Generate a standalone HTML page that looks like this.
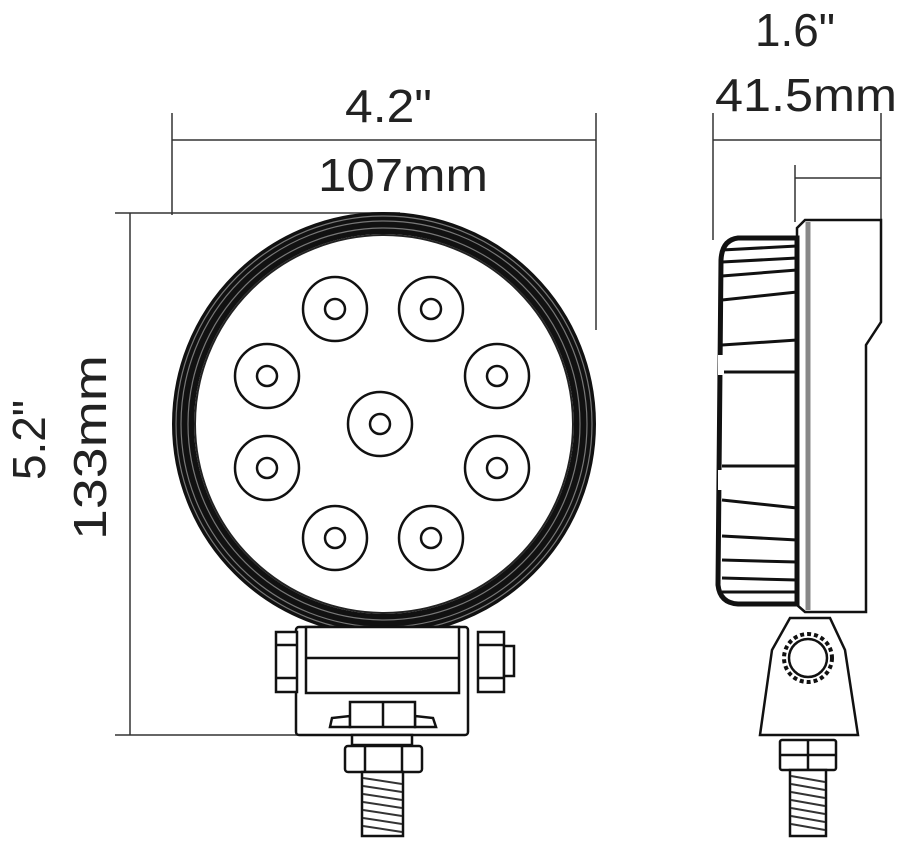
<!DOCTYPE html>
<html><head><meta charset="utf-8"><style>
html,body{margin:0;padding:0;background:#fff;}
svg{display:block;}
text{font-family:"Liberation Sans",sans-serif;fill:#222;}
</style></head><body>
<svg width="900" height="846" viewBox="0 0 900 846" xmlns="http://www.w3.org/2000/svg">
<g stroke="#333" stroke-width="1.5" fill="none">
<line x1="172" y1="113" x2="172" y2="215"/>
<line x1="596" y1="113" x2="596" y2="330"/>
<line x1="172" y1="140" x2="596" y2="140"/>
<line x1="115" y1="213" x2="400" y2="213"/>
<line x1="115" y1="735" x2="300" y2="735"/>
<line x1="130" y1="213" x2="130" y2="735"/>
<line x1="713" y1="113" x2="713" y2="240"/>
<line x1="881" y1="113" x2="881" y2="225"/>
<line x1="713" y1="140" x2="881" y2="140"/>
<line x1="795" y1="165" x2="795" y2="222"/>
<line x1="795" y1="178" x2="881" y2="178"/>
</g>
<text x="345" y="122" font-size="46" textLength="87" lengthAdjust="spacingAndGlyphs">4.2"</text>
<text x="318" y="191" font-size="46" textLength="170" lengthAdjust="spacingAndGlyphs">107mm</text>
<text x="755" y="46" font-size="46" textLength="80" lengthAdjust="spacingAndGlyphs">1.6"</text>
<text x="715" y="111" font-size="46" textLength="182" lengthAdjust="spacingAndGlyphs">41.5mm</text>
<text transform="translate(45,480) rotate(-90)" font-size="46" textLength="80" lengthAdjust="spacingAndGlyphs">5.2"</text>
<text transform="translate(106,540) rotate(-90)" font-size="46" textLength="185" lengthAdjust="spacingAndGlyphs">133mm</text>

<circle cx="384" cy="424" r="201" fill="none" stroke="#111" stroke-width="22"/>
<g fill="none" stroke="#777" stroke-width="1.2">
<circle cx="384" cy="424" r="196"/><circle cx="384" cy="424" r="203"/><circle cx="384" cy="424" r="208"/>
</g>
<circle cx="384" cy="424" r="189" fill="#fff" stroke="#222" stroke-width="2"/>
<g fill="#fff" stroke="#111" stroke-width="2.5">
<circle cx="335" cy="309" r="32"/><circle cx="431" cy="309" r="32"/>
<circle cx="267" cy="376" r="32"/><circle cx="497" cy="376" r="32"/>
<circle cx="380" cy="424" r="32"/>
<circle cx="267" cy="468" r="32"/><circle cx="497" cy="468" r="32"/>
<circle cx="335" cy="538" r="32"/><circle cx="431" cy="538" r="32"/>
<circle cx="335" cy="309" r="10"/><circle cx="431" cy="309" r="10"/>
<circle cx="267" cy="376" r="10"/><circle cx="497" cy="376" r="10"/>
<circle cx="380" cy="424" r="10"/>
<circle cx="267" cy="468" r="10"/><circle cx="497" cy="468" r="10"/>
<circle cx="335" cy="538" r="10"/><circle cx="431" cy="538" r="10"/>
</g>
<g fill="#fff" stroke="#111" stroke-width="2.5">
<rect x="296" y="627" width="172" height="108" rx="3"/>
<rect x="306" y="627" width="153" height="66"/>
<line x1="306" y1="658" x2="459" y2="658"/>
<rect x="276" y="632" width="21" height="60"/>
<line x1="276" y1="645" x2="297" y2="645"/><line x1="276" y1="678" x2="297" y2="678"/>
<rect x="478" y="632" width="26" height="60"/>
<line x1="478" y1="645" x2="504" y2="645"/><line x1="478" y1="678" x2="504" y2="678"/>
<rect x="504" y="646" width="10" height="30"/>
<path d="M330 727 L332 718 L350 716 L350 727 Z"/>
<path d="M415 727 L415 716 L433 718 L436 727 Z"/>
<rect x="350" y="702" width="65" height="25"/>
<line x1="383" y1="702" x2="383" y2="727"/>
<rect x="352" y="735" width="60" height="10"/>
<rect x="345" y="746" width="77" height="26" rx="3"/>
<line x1="365" y1="746" x2="365" y2="772"/><line x1="402" y1="746" x2="402" y2="772"/>
<rect x="362" y="772" width="41" height="64"/>
</g>
<g stroke="#333" stroke-width="2">
<line x1="363" y1="778" x2="402" y2="784"/><line x1="363" y1="786" x2="402" y2="792"/>
<line x1="363" y1="794" x2="402" y2="800"/><line x1="363" y1="802" x2="402" y2="808"/>
<line x1="363" y1="810" x2="402" y2="816"/><line x1="363" y1="818" x2="402" y2="824"/>
<line x1="363" y1="826" x2="402" y2="832"/>
</g>

<g fill="#fff" stroke="#111" stroke-width="2.5">
<path d="M797 228 L805 220 L881 220 L881 322 L866 345 L866 612 L805 612 L797 605 Z"/>
<line x1="808" y1="222" x2="808" y2="610" stroke="#888" stroke-width="5"/>
<path d="M797 238 L738 238 Q722 240 721 260 L718 585 Q720 603 738 604 L797 604 Z" stroke-width="5"/>
</g>
<g stroke="#111" stroke-width="3">
<line x1="722" y1="250" x2="797" y2="246"/><line x1="722" y1="262" x2="797" y2="258"/>
<line x1="722" y1="276" x2="797" y2="270"/><line x1="722" y1="300" x2="797" y2="292"/>
<line x1="722" y1="345" x2="797" y2="340"/><line x1="722" y1="372" x2="797" y2="372"/>
<line x1="722" y1="466" x2="797" y2="466"/><line x1="722" y1="500" x2="797" y2="508"/>
<line x1="722" y1="536" x2="797" y2="540"/><line x1="722" y1="560" x2="797" y2="562"/>
<line x1="722" y1="578" x2="797" y2="580"/><line x1="722" y1="592" x2="797" y2="592"/>
</g>
<rect x="718" y="355" width="6" height="20" fill="#fff"/>
<rect x="718" y="470" width="6" height="20" fill="#fff"/>
<g fill="#fff" stroke="#111" stroke-width="2.5">
<path d="M790 618 L830 618 L845 650 L858 735 L760 735 L772 650 Z"/>
<circle cx="808" cy="658" r="24" stroke-dasharray="4 3" stroke-width="4"/>
<circle cx="808" cy="658" r="19"/>
<rect x="780" y="740" width="56" height="30" rx="2"/>
<line x1="808" y1="740" x2="808" y2="770"/>
<line x1="780" y1="755" x2="836" y2="755"/>
<rect x="790" y="770" width="36" height="66"/>
</g>
<g stroke="#333" stroke-width="2">
<line x1="791" y1="776" x2="825" y2="782"/><line x1="791" y1="784" x2="825" y2="790"/>
<line x1="791" y1="792" x2="825" y2="798"/><line x1="791" y1="800" x2="825" y2="806"/>
<line x1="791" y1="808" x2="825" y2="814"/><line x1="791" y1="816" x2="825" y2="822"/>
<line x1="791" y1="824" x2="825" y2="830"/>
</g>
</svg>
</body></html>
